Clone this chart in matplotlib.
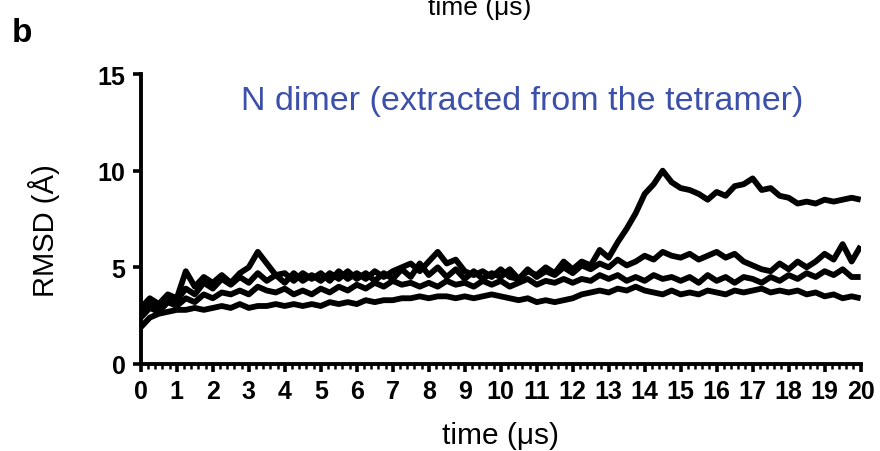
import numpy as np
import matplotlib
matplotlib.use("Agg")
import matplotlib.pyplot as plt
from matplotlib.ticker import MultipleLocator

plt.rcParams['font.family'] = ['Liberation Sans', 'DejaVu Sans']

time_us = [i * 0.25 for i in range(81)]

rmsd_run1 = [2.6, 3.2, 3.0, 3.5, 3.3, 3.9, 3.6, 4.2, 3.9, 4.4, 4.1, 4.5, 4.2, 4.7, 4.3, 4.6,
             4.2, 4.7, 4.3, 4.6, 4.3, 4.7, 4.4, 4.8, 4.4, 4.7, 4.3, 4.7, 4.4, 4.9, 4.5, 5.2,
             4.6, 5.0, 4.5, 4.9, 4.4, 4.8, 4.4, 4.7, 4.5, 4.9, 4.4, 4.8, 4.6, 5.0, 4.7, 5.3,
             4.9, 5.3, 5.1, 5.9, 5.5, 6.3, 7.0, 7.8, 8.8, 9.3, 10.0, 9.4, 9.1, 9.0, 8.8, 8.5,
             8.9, 8.7, 9.2, 9.3, 9.6, 9.0, 9.1, 8.7, 8.6, 8.3, 8.4, 8.3, 8.5, 8.4, 8.5, 8.6, 8.5]

rmsd_run2 = [2.9, 3.4, 3.1, 3.6, 3.4, 4.8, 4.0, 4.5, 4.2, 4.6, 4.2, 4.7, 5.0, 5.8, 5.2, 4.6,
             4.7, 4.3, 4.7, 4.4, 4.7, 4.3, 4.8, 4.4, 4.7, 4.4, 4.8, 4.5, 4.8, 5.0, 5.2, 4.8,
             5.3, 5.8, 5.2, 5.4, 4.8, 4.6, 4.8, 4.5, 4.9, 4.5, 4.4, 4.9, 4.5, 4.8, 4.6, 5.0,
             4.7, 5.1, 4.9, 5.2, 5.0, 5.4, 5.1, 5.3, 5.6, 5.4, 5.8, 5.6, 5.5, 5.7, 5.4, 5.6,
             5.8, 5.5, 5.7, 5.3, 5.1, 4.9, 4.8, 5.2, 4.9, 5.3, 5.0, 5.3, 5.7, 5.4, 6.2, 5.3, 6.1]

rmsd_run3 = [2.4, 2.9, 2.7, 3.2, 3.0, 3.4, 3.2, 3.6, 3.4, 3.7, 3.6, 3.8, 3.6, 4.0, 3.8, 3.7,
             3.9, 3.6, 3.8, 3.6, 3.9, 3.7, 4.0, 3.8, 4.1, 3.9, 4.2, 4.0, 4.3, 4.1, 4.2, 4.0,
             4.2, 4.0, 4.3, 4.1, 4.2, 4.0, 4.3, 4.1, 4.3, 4.0, 4.2, 4.4, 4.1, 4.3, 4.2, 4.4,
             4.2, 4.4, 4.3, 4.6, 4.4, 4.6, 4.3, 4.5, 4.3, 4.6, 4.4, 4.5, 4.3, 4.5, 4.2, 4.6,
             4.3, 4.5, 4.2, 4.5, 4.4, 4.2, 4.5, 4.3, 4.6, 4.4, 4.7, 4.5, 4.8, 4.6, 4.9, 4.5, 4.5]

rmsd_run4 = [1.9, 2.4, 2.6, 2.7, 2.8, 2.8, 2.9, 2.8, 2.9, 3.0, 2.9, 3.1, 2.9, 3.0, 3.0, 3.1,
             3.0, 3.1, 3.0, 3.1, 3.0, 3.2, 3.1, 3.2, 3.1, 3.3, 3.2, 3.3, 3.3, 3.4, 3.4, 3.5,
             3.4, 3.5, 3.5, 3.4, 3.5, 3.4, 3.5, 3.6, 3.5, 3.4, 3.3, 3.4, 3.2, 3.3, 3.2, 3.3,
             3.4, 3.6, 3.7, 3.8, 3.7, 3.9, 3.8, 4.0, 3.8, 3.7, 3.6, 3.8, 3.6, 3.7, 3.6, 3.8,
             3.7, 3.6, 3.8, 3.7, 3.8, 3.9, 3.7, 3.8, 3.7, 3.8, 3.6, 3.7, 3.5, 3.6, 3.4, 3.5, 3.4]

x_ticks = list(range(0, 21))
y_ticks = [0, 5, 10, 15]
title_text = "N dimer (extracted from the tetramer)"

fig = plt.figure(figsize=(8.8, 4.52), dpi=100)
ax = fig.add_axes([0.160, 0.1925, 0.818, 0.6415])

for series in (rmsd_run1, rmsd_run2, rmsd_run3, rmsd_run4):
    ax.plot(time_us, series, color='black', lw=4.2, solid_joinstyle='round',
            solid_capstyle='butt')

ax.set_xlim(0, 20)
ax.set_ylim(0, 15)
ax.set_xticks(x_ticks)
ax.set_yticks(y_ticks)
ax.xaxis.set_minor_locator(MultipleLocator(0.2))

for s in ('top', 'right'):
    ax.spines[s].set_visible(False)
for s in ('left', 'bottom'):
    ax.spines[s].set_linewidth(2.8)

ax.tick_params(axis='both', which='major', length=6, width=2.6, direction='out',
               labelsize=18, pad=5)
ax.tick_params(axis='x', which='minor', length=3.5, width=1.8, direction='out')
for lbl in ax.get_xticklabels() + ax.get_yticklabels():
    lbl.set_fontweight('bold')

ax.set_xlabel("time (μs)", fontsize=21.5, labelpad=13)
ax.set_ylabel("RMSD (Å)", fontsize=21)
ax.yaxis.set_label_coords(-0.112, 0.462)

ax.text(10.6, 13.65, title_text, color='#3c50aa', fontsize=24.5, ha='center', va='center')

fig.text(0.013, 0.907, "b", fontsize=24, fontweight='bold', ha='left', va='baseline')
fig.text(0.545, 0.967, "time (μs)", fontsize=19, ha='center', va='baseline')

fig.savefig("out.png", dpi=100)
